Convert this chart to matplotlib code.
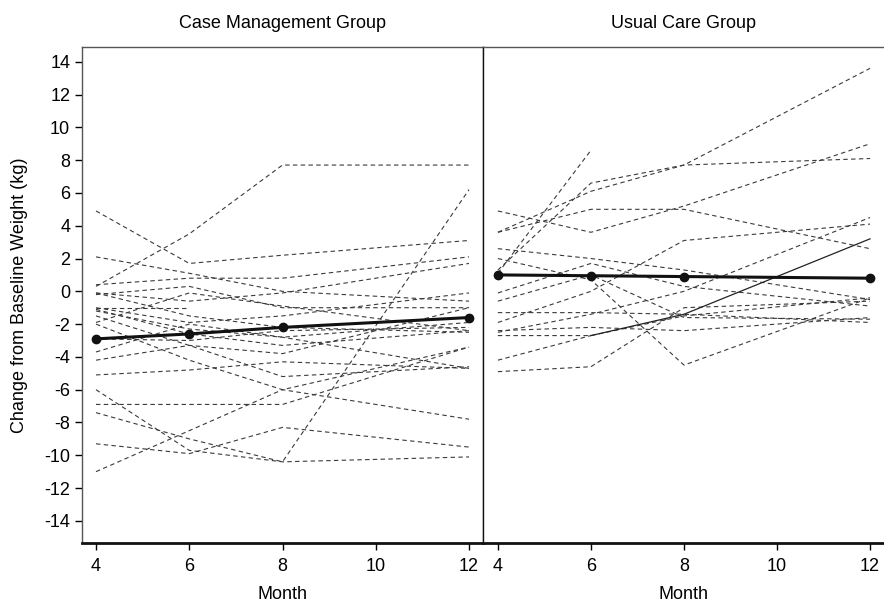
import matplotlib
matplotlib.use("Agg")
import matplotlib.pyplot as plt
import numpy as np

plt.rcParams['font.family'] = ['Liberation Sans Narrow', 'Liberation Sans', 'DejaVu Sans']
plt.rcParams['axes.unicode_minus'] = False

months = [4, 6, 8, 12]
nan = np.nan

# Case Management Group: individual trajectories (months 4, 6, 8, 12)
cm_lines = [
    [0.3, 3.5, 7.7, 7.7],
    [4.9, 1.7, 2.2, 3.1],
    [2.1, 1.1, 0.0, -0.6],
    [0.4, 0.8, 0.8, 2.1],
    [-0.1, -0.6, -0.1, 1.7],
    [-0.2, 0.3, -1.0, -1.0],
    [-1.0, -1.0, nan, nan],
    [-1.0, -1.9, -1.5, -0.1],
    [-1.1, -2.6, -3.3, -2.4],
    [-1.2, -2.3, -2.8, -4.7],
    [-1.5, -3.3, -5.2, -4.6],
    [-1.9, -0.1, -0.9, -2.4],
    [-2.0, -4.2, -6.0, -3.4],
    [-3.7, -2.0, -2.8, -1.9],
    [-4.2, -3.3, -3.8, -1.0],
    [-5.1, -4.8, -4.3, -4.7],
    [-6.0, -9.7, -10.4, -10.1],
    [-6.9, -6.9, -6.9, -3.4],
    [-7.4, -9.0, -10.4, 6.2],
    [-9.3, -9.9, -8.3, -9.5],
    [-11.0, -8.5, -6.0, -7.8],
    [-0.1, -1.5, -2.2, -2.5],
    [-2.9, -3.0, -2.4, -2.2],
]
cm_mean = [-2.9, -2.6, -2.2, -1.6]

# Usual Care Group: individual trajectories (months 4, 6, 8, 12)
uc_lines = [
    [1.1, 8.6, nan, nan],
    [1.3, 6.6, 7.7, 13.6],
    [3.6, 6.1, 7.7, 8.1],
    [4.9, 3.6, 5.2, 9.0],
    [3.6, 5.0, 5.0, 2.6],
    [2.6, 2.0, 1.3, -0.5],
    [-0.1, 1.7, 0.3, -0.9],
    [-0.6, 1.0, -1.6, -1.7],
    [-1.9, 0.0, 3.1, 4.1],
    [-2.5, -1.4, 0.0, 4.5],
    [-2.7, -2.7, -1.5, -0.4],
    [-1.3, -1.3, -1.4, -1.9],
    [-4.9, -4.6, -1.0, -0.6],
    [2.0, 0.7, -4.5, -0.4],
    [-2.4, -2.2, -2.4, -1.6],
    [-4.2, -2.7, nan, nan],
]
uc_solid_months = [6, 8, 12]
uc_solid = [-2.7, -1.4, 3.2]
uc_mean = [1.0, 0.95, 0.9, 0.8]

fig = plt.figure(figsize=(8.84, 6.08), dpi=100)
ax1 = fig.add_axes([82/884, 1-543/608, (483-82)/884, (543-47)/608])
ax2 = fig.add_axes([483/884, 1-543/608, (884-483)/884, (543-47)/608], sharey=ax1)

dash_kw = dict(color='#3a3a3a', lw=0.8, ls=(0, (4, 3)))
mean_kw = dict(color='#111111', lw=2.2, marker='o', ms=6, zorder=5)

for ln in cm_lines:
    ax1.plot(months, ln, **dash_kw)
ax1.plot(months, cm_mean, **mean_kw)

for ln in uc_lines:
    ax2.plot(months, ln, **dash_kw)
ax2.plot(uc_solid_months, uc_solid, color='#222222', lw=0.9)
ax2.plot(months, uc_mean, **mean_kw)

ax1.set_ylim(-15.35, 14.9)
ax1.set_xlim(3.70, 12.30)
ax2.set_xlim(3.68, 12.30)

for ax in (ax1, ax2):
    ax.set_xticks([4, 6, 8, 10, 12])
    ax.tick_params(axis='x', direction='out', length=5, width=1, labelsize=13, pad=6)
    ax.set_xlabel('Month', fontsize=13, labelpad=8)
    for s in ('top', 'left', 'right'):
        ax.spines[s].set_color('#555555')
        ax.spines[s].set_linewidth(1.0)
    ax.spines['bottom'].set_color('#111111')
    ax.spines['bottom'].set_linewidth(2.0)

ax1.set_yticks(np.arange(-14, 15, 2))
ax1.tick_params(axis='y', direction='out', length=5, width=1, labelsize=13)
ax1.set_ylabel('Change from Baseline Weight (kg)', fontsize=13, labelpad=12)
ax2.tick_params(axis='y', left=False, labelleft=False)
ax2.spines['left'].set_color('#111111')
ax2.spines['right'].set_visible(False)

ax1.set_title('Case Management Group', fontsize=13, pad=14)
ax2.set_title('Usual Care Group', fontsize=13, pad=14)

fig.savefig('out.png', dpi=100)
